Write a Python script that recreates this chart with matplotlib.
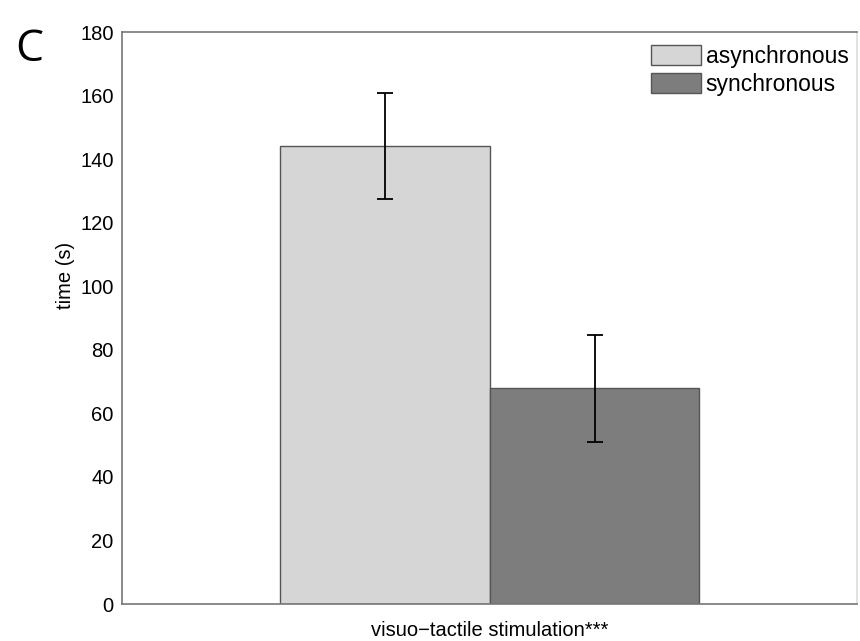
import numpy as np
import matplotlib
matplotlib.use("Agg")
import matplotlib.pyplot as plt

conditions = ["asynchronous", "synchronous"]
means = [144.2, 67.9]
errors = [16.6, 16.8]
group_label = "visuo\u2212tactile stimulation***"

plt.rcParams['font.family'] = ['Liberation Sans', 'DejaVu Sans']

fig = plt.figure(figsize=(8.6, 6.41), dpi=100)
ax = fig.add_axes([0.1419, 0.0577, 0.8546, 0.8923])

colors = ['#d6d6d6', '#7d7d7d']
width = 0.2857
offsets = [-width / 2, width / 2]
for i in range(len(conditions)):
    ax.bar(1 + offsets[i], means[i], width=width, color=colors[i],
           edgecolor='#555555', linewidth=1.0, label=conditions[i], zorder=2)
    ax.errorbar(1 + offsets[i], means[i], yerr=errors[i], color='black',
                capsize=6, elinewidth=1.3, capthick=1.3, fmt='none', zorder=3)

ax.set_xlim(0.5, 1.5)
ax.set_ylim(0, 180)
ax.set_yticks(np.arange(0, 181, 20))
ax.set_xticks([1])
ax.set_xticklabels([group_label])
ax.tick_params(axis='both', length=0, labelsize=14.5, pad=6)
ax.tick_params(axis='x', pad=12)
ax.set_ylabel('time (s)', fontsize=14.5)
ax.yaxis.set_label_coords(-0.064, 0.575)
for s in ax.spines.values():
    s.set_color('#777777')
    s.set_linewidth(1.2)
ax.spines['right'].set_color('#dddddd')

ax.legend(loc='upper right', bbox_to_anchor=(0.998, 0.99), frameon=False,
          fontsize=16.5, handlelength=2.2, handleheight=1.0,
          handletextpad=0.2, labelspacing=0.22, borderaxespad=0.1,
          borderpad=0.2)

fig.text(0.018, 0.905, 'C', fontsize=32, family=['Open Sans', 'DejaVu Sans'])

fig.savefig('out.png', dpi=100)
